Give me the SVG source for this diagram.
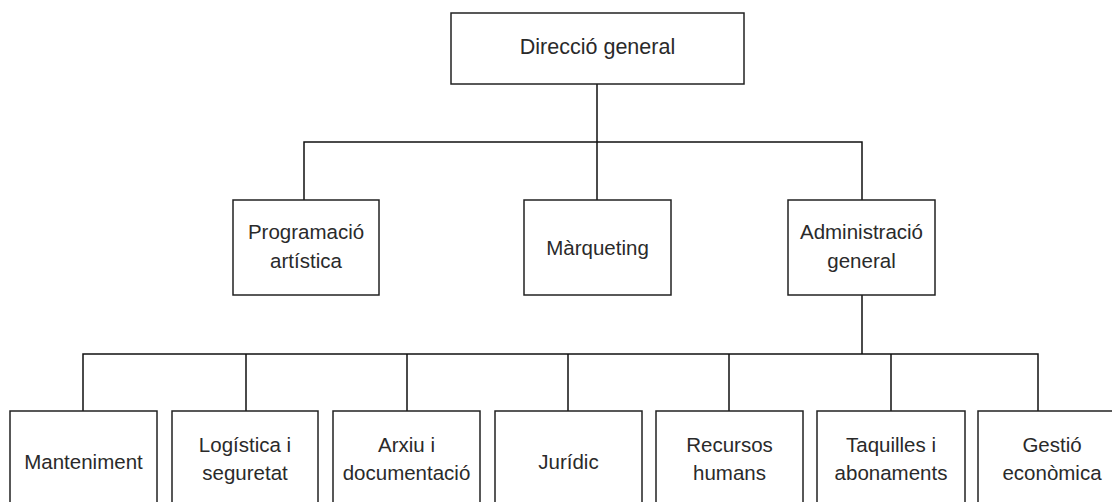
<svg xmlns="http://www.w3.org/2000/svg" width="1112" height="502" viewBox="0 0 1112 502">
<style>
.box{fill:#fff;stroke:#222;stroke-width:1.5}
.c{fill:none;stroke:#111;stroke-width:1.5}
text{font-family:"Liberation Sans",Arial,sans-serif;font-size:20.5px;fill:#2a2a2a;text-anchor:middle}
</style>
<rect width="1112" height="502" fill="#fff"/>
<g id="connectors">
<path class="c" d="M597,84V200M304,200V142H862V200"/>
<path class="c" d="M862,295V354M83,411V354H1038V411M246,354V411M407,354V411M568,354V411M729,354V411M891,354V411"/>
</g>
<g id="n-direccio"><rect class="box" x="451" y="13" width="293" height="71"/><text x="597.5" y="54" style="font-size:21.5px">Direcció general</text></g>
<g id="n-programacio"><rect class="box" x="233" y="200" width="146" height="95"/><text x="306" y="239">Programació</text><text x="306" y="268">artística</text></g>
<g id="n-marqueting"><rect class="box" x="524" y="200" width="147" height="95"/><text x="597.5" y="255">Màrqueting</text></g>
<g id="n-administracio"><rect class="box" x="788" y="200" width="147" height="95"/><text x="861.5" y="239">Administració</text><text x="861.5" y="268">general</text></g>
<g id="n-manteniment"><rect class="box" x="10" y="411" width="147" height="100"/><text x="83.5" y="469">Manteniment</text></g>
<g id="n-logistica"><rect class="box" x="172" y="411" width="146" height="100"/><text x="245" y="452">Logística i</text><text x="245" y="480">seguretat</text></g>
<g id="n-arxiu"><rect class="box" x="333" y="411" width="147" height="100"/><text x="406.5" y="452">Arxiu i</text><text x="406.5" y="480">documentació</text></g>
<g id="n-juridic"><rect class="box" x="495" y="411" width="147" height="100"/><text x="568.5" y="469">Jurídic</text></g>
<g id="n-recursos"><rect class="box" x="656" y="411" width="147" height="100"/><text x="729.5" y="452">Recursos</text><text x="729.5" y="480">humans</text></g>
<g id="n-taquilles"><rect class="box" x="817" y="411" width="148" height="100"/><text x="891" y="452">Taquilles i</text><text x="891" y="480">abonaments</text></g>
<g id="n-gestio"><rect class="box" x="978" y="411" width="148" height="100"/><text x="1052" y="452">Gestió</text><text x="1052" y="480">econòmica</text></g>
</svg>
